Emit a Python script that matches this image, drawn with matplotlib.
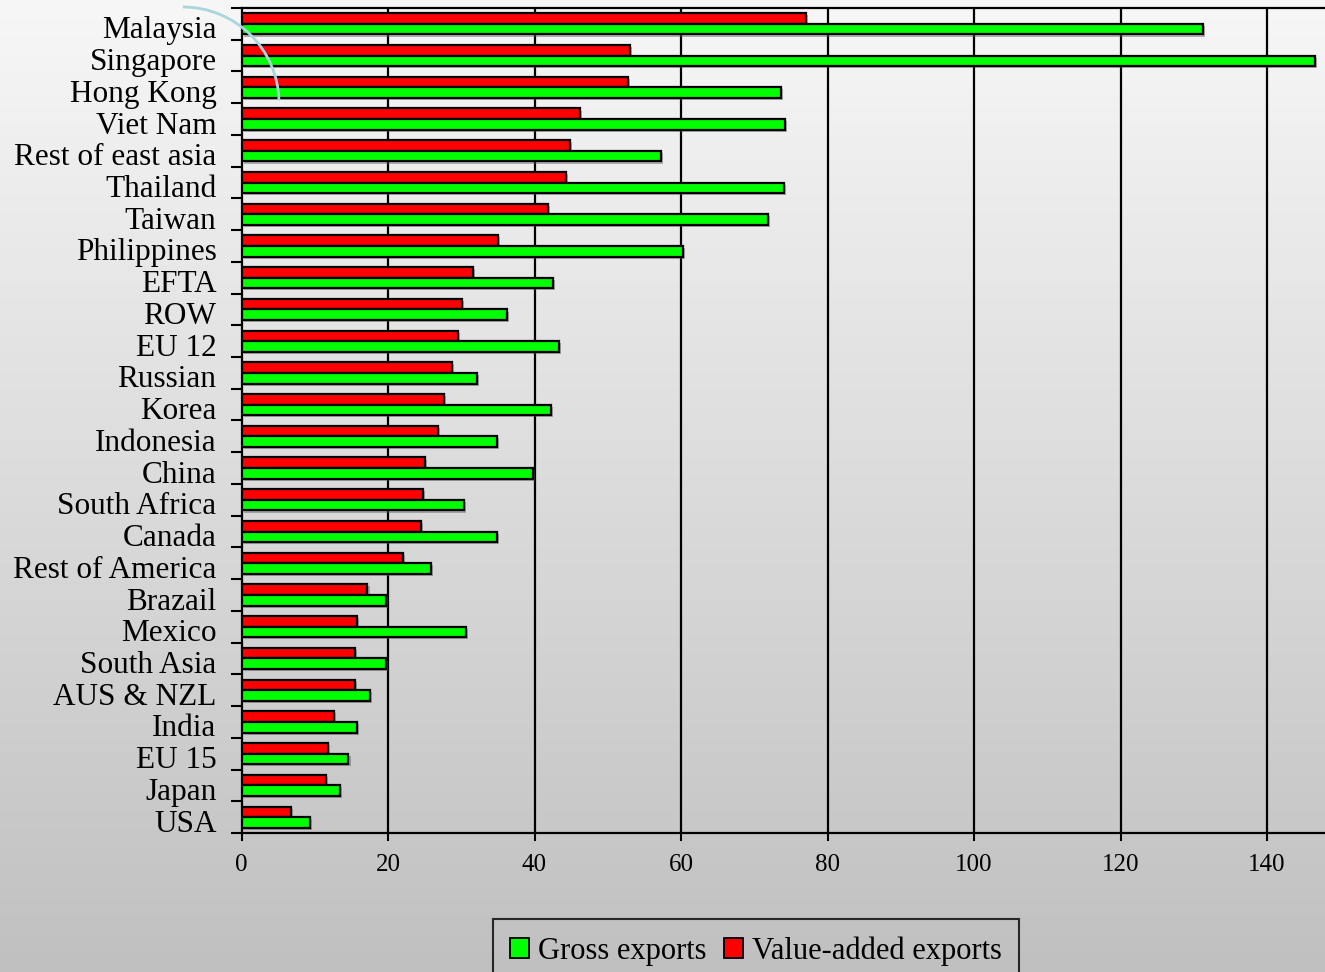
import numpy as np
import matplotlib
matplotlib.use("Agg")
import matplotlib.pyplot as plt
from matplotlib.patches import Patch, Arc
from matplotlib.transforms import ScaledTranslation
from matplotlib import patheffects as pe

# Regions, top to bottom
regions = [
    "Malaysia", "Singapore", "Hong Kong", "Viet Nam", "Rest of east asia",
    "Thailand", "Taiwan", "Philippines", "EFTA", "ROW", "EU 12", "Russian",
    "Korea", "Indonesia", "China", "South Africa", "Canada", "Rest of America",
    "Brazail", "Mexico", "South Asia", "AUS & NZL", "India", "EU 15", "Japan",
    "USA",
]

# Value-added exports (red)
value_added = [
    77.0, 53.0, 52.8, 46.2, 44.8, 44.3, 41.8, 35.0, 31.6, 30.1, 29.6, 28.7,
    27.6, 26.8, 25.0, 24.8, 24.5, 22.0, 17.2, 15.7, 15.5, 15.5, 12.6, 11.8,
    11.5, 6.7,
]

# Gross exports (green)
gross = [
    131.3, 146.6, 73.7, 74.2, 57.3, 74.0, 71.9, 60.3, 42.5, 36.3, 43.4, 32.1,
    42.3, 34.9, 39.8, 30.4, 34.9, 25.9, 19.7, 30.7, 19.7, 17.5, 15.8, 14.6,
    13.5, 9.3,
]

x_ticks = [0, 20, 40, 60, 80, 100, 120, 140]

plt.rcParams["font.family"] = ["Liberation Serif", "DejaVu Serif"]

W, H = 1325, 972
fig = plt.figure(figsize=(W / 100, H / 100), dpi=100)

# Vertical grey gradient behind everything
bg = fig.add_axes([0, 0, 1, 1], zorder=-10)
grad = np.linspace(247, 192, 256).reshape(-1, 1) / 255.0
bg.imshow(np.dstack([grad, grad, grad]), aspect="auto", extent=[0, 1, 0, 1],
          interpolation="bicubic")
bg.set_axis_off()

left_px, right_px, top_px, bottom_px = 241.5, 1325, 8, 833
ax = fig.add_axes([left_px / W, 1 - bottom_px / H,
                   (right_px - left_px) / W, (bottom_px - top_px) / H])
ax.set_facecolor("none")

n = len(regions)
ypos = np.arange(n)[::-1]
bh = 0.335
shadow = [pe.SimplePatchShadow(offset=(1.5, -1.5), shadow_rgbFace="0.35",
                               alpha=0.45), pe.Normal()]

red_bars = ax.barh(ypos + bh / 2, value_added, height=bh, color="#ff0000",
                   edgecolor="black", linewidth=1.6, zorder=3)
green_bars = ax.barh(ypos - bh / 2, gross, height=bh, color="#00ff00",
                     edgecolor="black", linewidth=1.6, zorder=3)
for b in list(red_bars) + list(green_bars):
    b.set_path_effects(shadow)

x_max = (right_px - left_px) / ((1267 - left_px) / 140)
ax.set_xlim(0, x_max)
ax.set_ylim(-0.5, n - 0.5)

# Vertical grid lines
for xv in x_ticks[1:]:
    ax.axvline(xv, color="black", linewidth=1.6, zorder=1)

ax.set_xticks(x_ticks)
ax.set_xticklabels([str(v) for v in x_ticks], fontsize=18)
ax.tick_params(axis="x", direction="out", length=6, width=1.5, pad=9,
               colors="black")

# Boundary ticks on the category axis, labels centred on each category
ax.set_yticks(np.arange(n + 1) - 0.5)
ax.set_yticklabels([])
ax.tick_params(axis="y", which="major", direction="out", length=8, width=1.5)
ax.set_yticks(ypos, regions, minor=True)
ax.tick_params(axis="y", which="minor", length=0, pad=18, labelsize=22.5)
shift = ScaledTranslation(0, -0.035, fig.dpi_scale_trans)
for lab in ax.get_yticklabels(minor=True):
    lab.set_transform(lab.get_transform() + shift)

for side in ("left", "bottom", "top"):
    ax.spines[side].set_linewidth(1.6)
    ax.spines[side].set_color("black")
ax.spines["right"].set_visible(False)

# Legend below the plot
handles = [Patch(facecolor="#00ff00", edgecolor="black", linewidth=1.3,
                 label="Gross exports"),
           Patch(facecolor="#ff0000", edgecolor="black", linewidth=1.3,
                 label="Value-added exports")]
leg = fig.legend(handles=handles, loc="upper left",
                 bbox_to_anchor=(493 / W, 1 - 919 / H), ncol=2,
                 fontsize=22, frameon=True, fancybox=False,
                 handlelength=0.62, handleheight=0.62, handletextpad=0.28,
                 columnspacing=0.6, borderpad=0.56, borderaxespad=0)
leg.get_frame().set_edgecolor("black")
leg.get_frame().set_linewidth(1.5)
leg.get_frame().set_facecolor("none")

# Light blue arc at the upper left
arc = Arc((183 / W, 1 - 103 / H), 2 * 96 / W, 2 * 96 / H, theta1=2,
          theta2=90, transform=fig.transFigure, color="#a9d6dc",
          linewidth=2, zorder=20)
fig.add_artist(arc)

fig.savefig("out.png", dpi=100)
